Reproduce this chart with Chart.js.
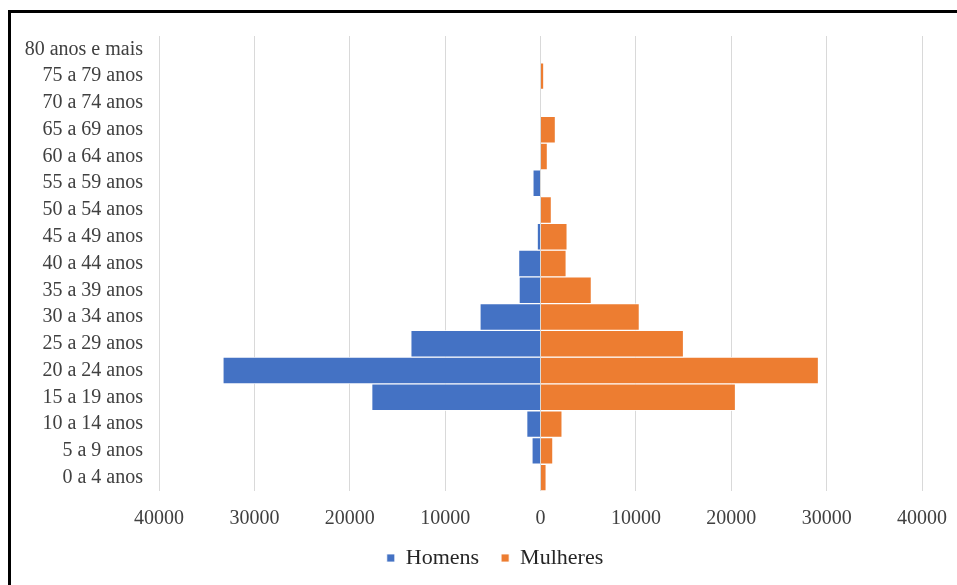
<!DOCTYPE html>
<html>
<head>
<meta charset="utf-8">
<script src="https://cdn.jsdelivr.net/npm/chart.js@4/dist/chart.umd.min.js"></script>
<style>
  html, body { margin: 0; padding: 0; background: #fff; }
  #wrap { position: relative; width: 957px; height: 585px; overflow: hidden; }
  #frame {
    position: absolute; left: 8px; top: 10px; width: 960px; height: 600px;
    border-top: 3px solid #000; border-left: 3px solid #000; box-sizing: border-box;
  }
  canvas { position: absolute; left: 0; top: 0; }
</style>
</head>
<body>
<div id="wrap">
  <div id="frame"></div>
  <canvas id="piramide" width="957" height="585"></canvas>
</div>
<script>
var faixas = [
    '0 a 4 anos', '5 a 9 anos', '10 a 14 anos', '15 a 19 anos', '20 a 24 anos',
    '25 a 29 anos', '30 a 34 anos', '35 a 39 anos', '40 a 44 anos', '45 a 49 anos',
    '50 a 54 anos', '55 a 59 anos', '60 a 64 anos', '65 a 69 anos', '70 a 74 anos',
    '75 a 79 anos', '80 anos e mais'
];
var homens = [0, 900, 1450, 17700, 33300, 13600, 6350, 2250, 2300, 350, 0, 800, 0, 0, 0, 0, 0];
var mulheres = [600, 1300, 2270, 20450, 29150, 15000, 10370, 5340, 2700, 2800, 1150, 0, 730, 1570, 0, 350, 0];
var escala = [-40000, 40000, 10000];

var fonte = 'Liberation Serif, Times New Roman, serif';

// legenda um pouco à direita do centro do canvas
var deslocaLegenda = {
    id: 'deslocaLegenda',
    afterLayout: function (chart) {
        chart.legend.left += 28;
        chart.legend.right += 28;
    },
};

new Chart(document.getElementById('piramide'), {
    type: 'bar',
    data: {
        labels: faixas,
        datasets: [{
            label: 'Homens',
            data: homens.map(function (v) { return -v; }),
            backgroundColor: '#4472C4',
            borderColor: 'rgba(255,255,255,0.8)',
            borderWidth: 1,
        }, {
            label: 'Mulheres',
            data: mulheres,
            backgroundColor: '#ED7D31',
            borderColor: 'rgba(255,255,255,0.8)',
            borderWidth: 1,
        }],
    },
    options: {
        indexAxis: 'y',
        responsive: false,
        animation: false,
        categoryPercentage: 1,
        barPercentage: 1,
        layout: { padding: { top: 36, right: 35, bottom: 6, left: 12 } },
        scales: {
            x: {
                stacked: true,
                min: escala[0],
                max: escala[1],
                ticks: {
                    stepSize: escala[2],
                    color: '#404040',
                    font: { family: fonte, size: 20 },
                    padding: 16,
                    callback: function (v) { return Math.abs(v); },
                },
                grid: { color: '#d9d9d9', drawTicks: false },
                border: { display: false },
                afterFit: function (axis) {
                    axis.height = 34;
                    axis.paddingLeft = 0;
                    axis.paddingRight = 0;
                },
            },
            y: {
                stacked: true,
                reverse: true,
                ticks: {
                    color: '#404040',
                    font: { family: fonte, size: 20 },
                    padding: 16,
                    autoSkip: false,
                },
                grid: { display: false, drawTicks: false },
                border: { display: false },
                afterFit: function (axis) { axis.width = 147; },
            },
        },
        plugins: {
            legend: {
                position: 'bottom',
                labels: {
                    color: '#262626',
                    font: { family: fonte, size: 22 },
                    boxWidth: 8,
                    boxHeight: 8,
                    padding: 22,
                },
            },
            tooltip: { enabled: false },
        },
    },
    plugins: [deslocaLegenda],
});
</script>
</body>
</html>
